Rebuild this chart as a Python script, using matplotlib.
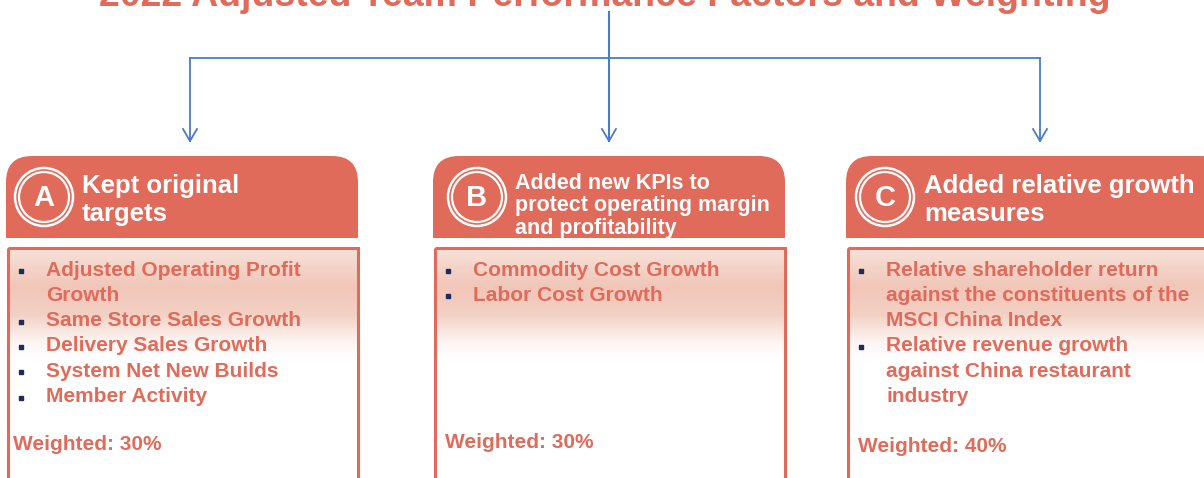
import matplotlib
matplotlib.use("Agg")
import matplotlib.pyplot as plt
import numpy as np
from matplotlib.patches import FancyBboxPatch, Rectangle, Circle
from matplotlib.colors import LinearSegmentedColormap

plt.rcParams["font.family"] = ["Liberation Sans", "DejaVu Sans"]

# Content of the diagram.
title = "2022 Adjusted Team Performance Factors and Weighting"
letters = ["A", "B", "C"]
headers = [
    "Kept original\ntargets",
    "Added new KPIs to\nprotect operating margin\nand profitability",
    "Added relative growth\nmeasures",
]
items = [
    ["Adjusted Operating Profit\nGrowth", "Same Store Sales Growth",
     "Delivery Sales Growth", "System Net New Builds", "Member Activity"],
    ["Commodity Cost Growth", "Labor Cost Growth"],
    ["Relative shareholder return\nagainst the constituents of the\nMSCI China Index",
     "Relative revenue growth\nagainst China restaurant\nindustry"],
]
weights = [30, 30, 40]

# Layout (pixels).
salmon = "#e06b5a"
navy = "#1f2b5e"
blue = "#4a7cc2"
box_left = [6, 433, 846]
box_width = [352, 352, 380]
badge_x = [44, 477, 885]
header_x = [82, 515, 924]
header_y = [200, 206, 200]
header_size = [18.5, 15.5, 18.5]
header_spacing = [1.25, 1.12, 1.25]
weight_x = [13, 445, 858]
weight_y = [445, 443, 446]

fig = plt.figure(figsize=(12.04, 4.78), dpi=100)
ax = fig.add_axes([0, 0, 1, 1])
ax.set_xlim(0, 1204)
ax.set_ylim(478, 0)
ax.axis("off")

# Title (cut off at the top edge, as in the source slide).
ax.text(605, 6, title, ha="center", va="baseline", fontsize=27,
        fontweight="bold", color=salmon)

# Connectors.
ax.plot([609, 609], [12, 141], color=blue, lw=1.5)
ax.plot([190, 1040], [58, 58], color=blue, lw=1.3)
for x in [190, 609, 1040]:
    ax.plot([x, x], [58, 141], color=blue, lw=1.3)
    ax.plot([x - 7, x, x + 7], [129, 141, 129], color=blue, lw=1.3)

# Gradient used for the body boxes.
grad_cmap = LinearSegmentedColormap.from_list(
    "bodyfill",
    [(0.0, "#f7e2da"), (0.35, "#f1c6b8"), (0.6, "#f3d0c4"), (0.85, "#fdf4f1"),
     (1.0, "#ffffff")],
)
grad = np.linspace(0, 1, 200).reshape(-1, 1)

for i in range(3):
    x0 = box_left[i]
    w = box_width[i]

    # Header with rounded top corners.
    ax.add_patch(FancyBboxPatch((x0, 156), w, 82,
                                boxstyle="round,pad=0,rounding_size=26",
                                facecolor=salmon, edgecolor="none"))
    ax.add_patch(Rectangle((x0, 200), w, 38, facecolor=salmon, edgecolor="none"))

    # Letter badge.
    cx, cy = badge_x[i], 197
    ax.add_patch(Circle((cx, cy), 29, facecolor="none", edgecolor="white", lw=1.8))
    ax.add_patch(Circle((cx, cy), 25, facecolor="none", edgecolor="white", lw=1.6))
    ax.text(cx, cy + 1, letters[i], ha="center", va="center", fontsize=21,
            fontweight="bold", color="white")

    # Header text.
    ax.text(header_x[i], header_y[i], headers[i], ha="left", va="center",
            fontsize=header_size[i], fontweight="bold", color="white",
            linespacing=header_spacing[i])

    # Body box with gradient fill.
    body = Rectangle((x0 + 2, 248), w - 2, 240, facecolor="none",
                     edgecolor=salmon, lw=2.2)
    img = ax.imshow(grad, cmap=grad_cmap, aspect="auto",
                    extent=(x0 + 2, x0 + w, 358, 248), zorder=0.5)
    img.set_clip_path(Rectangle((x0 + 2, 248), w - 2, 240, transform=ax.transData))
    ax.add_patch(body)

    # Bulleted items.
    y = 270
    for item in items[i]:
        ax.plot(x0 + 15, y + 1, marker="s", markersize=3.4, color=navy)
        for line in item.split("\n"):
            ax.text(x0 + 40, y, line, ha="left", va="center", fontsize=15,
                    fontweight="bold", color=salmon)
            y += 25.3

    ax.text(weight_x[i], weight_y[i], f"Weighted: {weights[i]}%", ha="left",
            va="center", fontsize=15, fontweight="bold", color=salmon)

fig.savefig("out.png", dpi=100)
